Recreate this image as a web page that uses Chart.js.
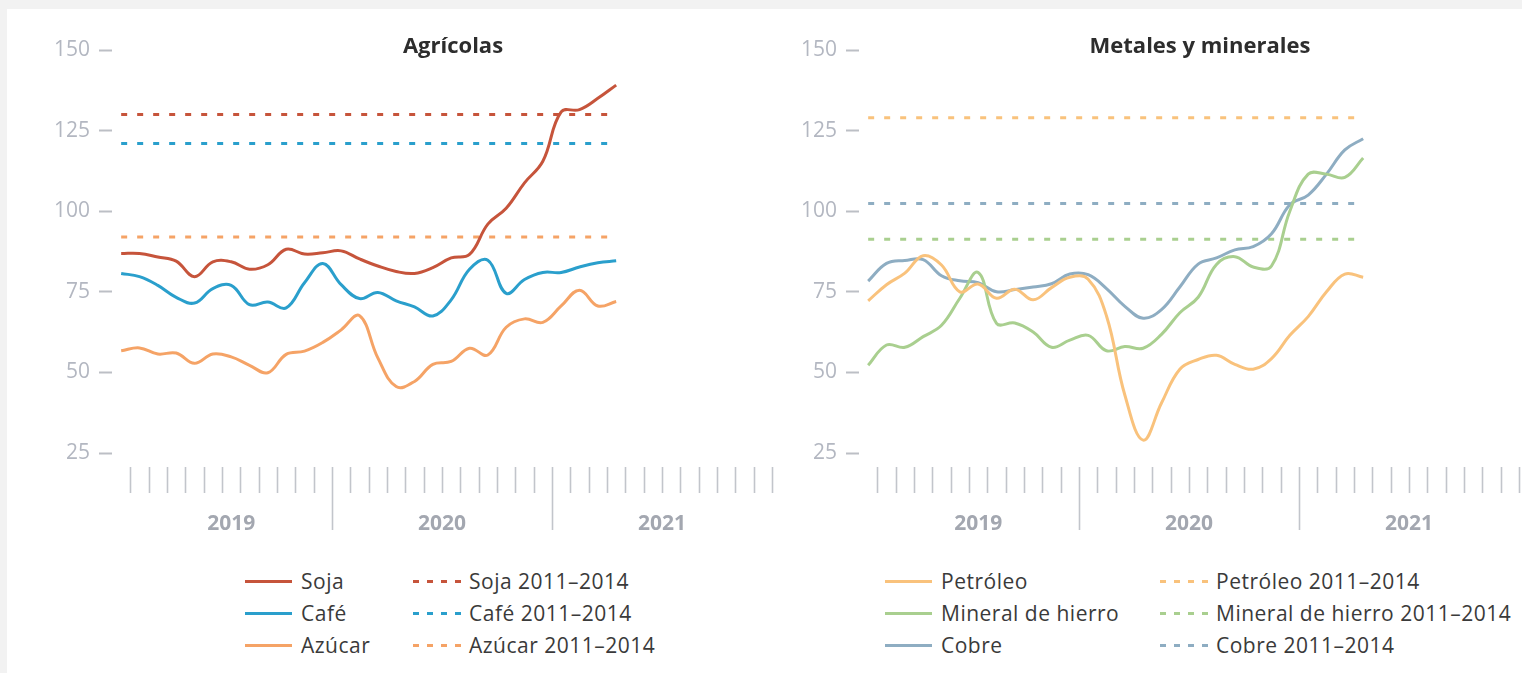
<!DOCTYPE html>
<html lang="es">
<head>
<meta charset="utf-8">
<script src="https://cdn.jsdelivr.net/npm/chart.js@4.4.1/dist/chart.umd.min.js"></script>
<style>
  body { margin: 0; width: 1522px; height: 673px; overflow: hidden; position: relative; background: #f2f2f2; font-family: 'Open Sans', sans-serif; }
  .card { position: absolute; left: 7px; top: 9px; width: 1530px; height: 700px; background: #fff; }
  canvas { position: absolute; top: 0; }
  .legend { position: absolute; top: 565px; display: grid; grid-auto-rows: 32px; font-size: 21px; letter-spacing: 0.5px; color: #3a3a3a; }
  .item { display: flex; align-items: center; white-space: nowrap; }
  .solid { display: inline-block; width: 47px; height: 3px; margin-right: 9px; }
  .dash { display: inline-block; width: 50px; height: 3px; margin-right: 6px; }
</style>
</head>
<body>
<div class="card"></div>
<canvas id="agricolas" width="780" height="545" style="left:0px"></canvas>
<canvas id="metales" width="780" height="545" style="left:747px"></canvas>
<div class="legend" id="leyendaAgricolas" style="left:245px; grid-template-columns:168px auto"></div>
<div class="legend" id="leyendaMetales" style="left:885px; grid-template-columns:275px auto"></div>
<script>
// meses con dato (enero 2019 - abril 2021)
const meses = ['2019-01','2019-02','2019-03','2019-04','2019-05','2019-06','2019-07','2019-08','2019-09','2019-10','2019-11','2019-12',
  '2020-01','2020-02','2020-03','2020-04','2020-05','2020-06','2020-07','2020-08','2020-09','2020-10','2020-11','2020-12',
  '2021-01','2021-02','2021-03','2021-04'];
const anios = ['2019', '2020', '2021'];
const yTicks = [25, 50, 75, 100, 125, 150];

// Agrícolas
const soja   = [86.9, 86.9, 85.8, 84.5, 79.7, 84.3, 84.3, 82.0, 83.4, 88.2, 86.7, 87.1, 87.7, 85.2, 83.0, 81.3, 80.7, 82.5, 85.5, 86.6, 96.0, 100.9, 108.8, 115.5, 130.8, 131.5, 135.0, 139.1];
const cafe   = [80.7, 79.7, 77.0, 73.3, 71.5, 76.0, 77.0, 71.0, 71.8, 70.0, 77.8, 83.8, 77.2, 72.9, 74.8, 72.2, 70.3, 67.5, 72.5, 82.0, 84.8, 74.5, 78.8, 81.0, 81.0, 82.7, 84.0, 84.6];
const azucar = [56.7, 57.6, 55.7, 56.0, 52.8, 55.7, 54.8, 52.2, 49.9, 55.6, 56.6, 59.3, 63.2, 67.6, 54.5, 45.6, 47.2, 52.5, 53.4, 57.5, 55.4, 64.0, 66.6, 65.5, 70.6, 75.5, 70.6, 72.0];
const refAgricolas = [130, 121, 92]; // promedios 2011-2014: soja, café, azúcar

// Metales y minerales
const petroleo = [72.2, 77.2, 80.8, 86.2, 83.3, 75.0, 77.4, 73.0, 75.8, 72.5, 76.3, 79.5, 78.9, 67.5, 43.0, 29.0, 40.5, 51.0, 54.0, 55.3, 52.5, 51.0, 54.3, 61.5, 67.3, 75.0, 80.5, 79.5];
const hierro   = [52.2, 58.5, 57.8, 61.1, 64.6, 73.0, 81.0, 65.2, 65.3, 62.5, 57.8, 60.0, 61.5, 56.7, 58.0, 57.5, 61.8, 68.5, 73.3, 83.5, 85.9, 82.7, 83.0, 100.0, 111.5, 111.5, 110.5, 116.5];
const cobre    = [78.3, 83.8, 84.7, 85.0, 80.0, 78.4, 77.8, 75.0, 75.7, 76.5, 77.5, 80.5, 80.3, 76.0, 70.5, 66.8, 69.5, 76.5, 83.6, 85.5, 88.0, 89.0, 93.0, 102.0, 105.0, 111.5, 119.0, 122.5];
const refMetales = [129, 91.3, 102.4]; // promedios 2011-2014: petróleo, hierro, cobre

const FONT = "'Open Sans', sans-serif";

// marcas de meses debajo del eje y título del panel
const marcasMeses = {
  id: 'marcasMeses',
  afterDraw(chart, args, opts) {
    const x = chart.scales.x;
    const ctx = chart.ctx;
    const base = chart.chartArea.bottom;
    ctx.save();
    ctx.strokeStyle = '#c2c5cb';
    ctx.lineWidth = 1.6;
    for (let m = 1; m <= 36; m++) {
      const px = Math.round(x.getPixelForValue(m)) + 0.5;
      ctx.beginPath();
      ctx.moveTo(px, base + 14);
      ctx.lineTo(px, (m % 12 === 0 && m < 36) ? base + 77 : base + 40);
      ctx.stroke();
    }
    ctx.fillStyle = '#2d2d2d';
    ctx.font = 'bold 22px ' + FONT;
    ctx.textAlign = 'center';
    ctx.textBaseline = 'middle';
    ctx.fillText(opts.texto, (chart.chartArea.left + chart.chartArea.right) / 2 + 11, 47);
    ctx.restore();
  }
};

function serie(valores) {
  return valores.map((v, i) => ({ x: i + 0.5, y: v }));
}

function referencia(valor) {
  return [{ x: 0.5, y: valor }, { x: meses.length - 0.5, y: valor }];
}

function crearPanel(id, titulo, nombres, series, refs, colores, leyendaId) {
  const datasets = [];
  nombres.forEach((n, i) => {
    datasets.push({
      label: n + ' 2011–2014', data: referencia(refs[i]), borderColor: colores[i],
      borderWidth: 3, borderDash: [6, 10], pointRadius: 0, tension: 0, order: 2
    });
  });
  nombres.forEach((n, i) => {
    datasets.push({
      label: n, data: serie(series[i]), borderColor: colores[i],
      borderWidth: 3, pointRadius: 0, tension: 0.4, order: 1
    });
  });

  new Chart(document.getElementById(id), {
    type: 'line',
    data: { datasets: datasets },
    options: {
      responsive: false,
      animation: false,
      layout: { padding: { top: 50, right: 8, bottom: 7, left: 0 } },
      plugins: {
        legend: { display: false },
        tooltip: { enabled: false },
        marcasMeses: { texto: titulo }
      },
      scales: {
        x: {
          type: 'linear', min: 0, max: 36,
          grid: { display: false },
          border: { display: false },
          afterBuildTicks: scale => { scale.ticks = [6.5, 18, 30].map(v => ({ value: v })); },
          afterFit: scale => { scale.height = 85; },
          ticks: {
            autoSkip: false, maxRotation: 0, padding: 50,
            color: '#a3a7b0', font: { family: FONT, size: 21, weight: 'bold' },
            callback: (v, i) => anios[i]
          }
        },
        y: {
          min: 25, max: 150,
          afterBuildTicks: scale => { scale.ticks = yTicks.map(v => ({ value: v })); },
          afterFit: scale => { scale.width = 112; },
          grid: { drawOnChartArea: false, drawTicks: true, tickLength: 13, tickWidth: 2, tickColor: '#bcbfc5' },
          border: { display: false },
          ticks: { padding: 9, color: '#b3b7c1', font: { family: FONT, size: 21 } }
        }
      }
    },
    plugins: [marcasMeses]
  });

  // leyenda en dos columnas
  const cont = document.getElementById(leyendaId);
  nombres.forEach((n, i) => {
    const a = document.createElement('div');
    a.className = 'item';
    a.innerHTML = '<span class="solid" style="background:' + colores[i] + '"></span>' + n;
    const b = document.createElement('div');
    b.className = 'item';
    b.innerHTML = '<span class="dash" style="background:repeating-linear-gradient(90deg,' + colores[i] +
      ' 0 6px, transparent 6px 14px)"></span>' + n + ' 2011–2014';
    cont.appendChild(a);
    cont.appendChild(b);
  });
}

crearPanel('agricolas', 'Agrícolas', ['Soja', 'Café', 'Azúcar'], [soja, cafe, azucar], refAgricolas,
  ['#c6543b', '#2a9fcc', '#f5a366'], 'leyendaAgricolas');
crearPanel('metales', 'Metales y minerales', ['Petróleo', 'Mineral de hierro', 'Cobre'], [petroleo, hierro, cobre], refMetales,
  ['#f9c27c', '#a9cf8f', '#8eadc2'], 'leyendaMetales');
</script>
</body>
</html>
